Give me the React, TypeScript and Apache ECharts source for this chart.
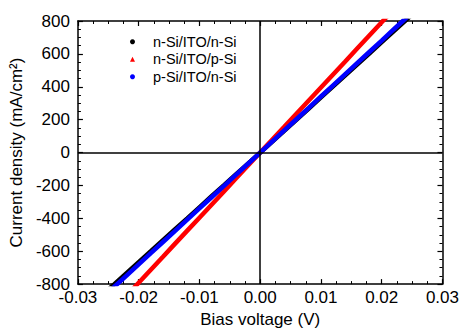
import React, { useEffect, useRef } from "react";
import * as echarts from "echarts";

// Bias voltage (V)
const voltage = [
  -0.026, -0.024, -0.022, -0.02, -0.018, -0.016, -0.014, -0.012, -0.01, -0.008, -0.006, -0.004, -0.002,
  0, 0.002, 0.004, 0.006, 0.008, 0.01, 0.012, 0.014, 0.016, 0.018, 0.02, 0.022, 0.024, 0.026,
];
// Current density (mA/cm2)
const nSiITOnSi = [
  -866, -800, -733, -666, -600, -533, -466, -400, -333, -266, -200, -133, -67,
  0, 67, 134, 201, 268, 336, 403, 470, 537, 604, 672, 739, 806, 873,
];
const nSiITOpSi = [
  -1030, -950, -871, -792, -713, -634, -554, -475, -396, -317, -238, -158, -79,
  0, 79, 158, 238, 317, 396, 475, 554, 634, 713, 792, 871, 950, 1030,
];
const pSiITOnSi = [
  -884, -816, -748, -680, -612, -544, -476, -408, -340, -272, -204, -136, -68,
  0, 68, 136, 204, 272, 341, 409, 477, 545, 613, 681, 750, 818, 886,
];

const seriesNames = ["n-Si/ITO/n-Si", "n-Si/ITO/p-Si", "p-Si/ITO/n-Si"];
const seriesColors = ["#000000", "#ff0000", "#0000ff"];
const legendIcons = ["circle", "triangle", "circle"];

const FONT = "Arial, 'Liberation Sans', sans-serif";

export default function App() {
  const ref = useRef<HTMLDivElement>(null);
  useEffect(() => {
    if (!ref.current) return;
    const chart = echarts.init(ref.current, null, { renderer: "svg" });
    const values = [nSiITOnSi, nSiITOpSi, pSiITOnSi];
    const xFmt = (v: number) => (Math.abs(v) < 1e-9 ? "0.00" : v.toFixed(2));
    const baseX = {
      type: "value" as const,
      min: -0.03,
      max: 0.03,
      interval: 0.01,
      splitLine: { show: false },
      axisLine: { show: true, onZero: false, lineStyle: { color: "#000", width: 1.5 } },
      axisTick: { inside: true, length: 5, lineStyle: { color: "#000", width: 1.2 } },
      minorTick: { show: true, splitNumber: 4, length: 3, lineStyle: { color: "#000", width: 1 } },
    };
    const baseY = {
      type: "value" as const,
      min: -800,
      max: 800,
      interval: 200,
      splitLine: { show: false },
      axisLine: { show: true, onZero: false, lineStyle: { color: "#000", width: 1.5 } },
      axisTick: { inside: true, length: 5, lineStyle: { color: "#000", width: 1.2 } },
      minorTick: { show: true, splitNumber: 4, length: 3, lineStyle: { color: "#000", width: 1 } },
    };
    const order = [0, 1, 2];
    chart.setOption({
      animation: false,
      backgroundColor: "#ffffff",
      grid: { left: 74, top: 21, width: 369, height: 271, containLabel: false },
      legend: {
        orient: "vertical",
        left: 130,
        top: 34,
        itemWidth: 5,
        itemHeight: 5,
        itemGap: 2,
        padding: 0,
        textStyle: { fontFamily: FONT, fontSize: 14.5, lineHeight: 15.5, color: "#000", padding: [0, 0, 0, 13] },
        data: seriesNames.map((n, i) => ({ name: n, icon: legendIcons[i] })),
      },
      xAxis: [
        {
          ...baseX,
          position: "bottom",
          name: "Bias voltage (V)",
          nameLocation: "middle",
          nameGap: 24,
          nameTextStyle: { fontFamily: FONT, fontSize: 17, color: "#000" },
          axisLabel: { fontFamily: FONT, fontSize: 17, color: "#000", margin: 5, formatter: xFmt },
        },
        { ...baseX, position: "top", axisLabel: { show: false } },
      ],
      yAxis: [
        {
          ...baseY,
          position: "left",
          name: "Current density (mA/cm²)",
          nameLocation: "middle",
          nameGap: 42,
          nameTextStyle: { fontFamily: FONT, fontSize: 17, color: "#000" },
          axisLabel: { fontFamily: FONT, fontSize: 17, color: "#000", margin: 8 },
        },
        { ...baseY, position: "right", axisLabel: { show: false } },
      ],
      series: order.map((i, k) => ({
        name: seriesNames[i],
        type: "line",
        xAxisIndex: 0,
        yAxisIndex: 0,
        data: voltage.map((v, j) => [v, values[i][j]]),
        showSymbol: false,
        symbol: legendIcons[i],
        clip: true,
        z: 2 + k,
        itemStyle: { color: seriesColors[i] },
        lineStyle: { color: seriesColors[i], width: 4.5 },
        ...(k === 0
          ? {
              markLine: {
                silent: true,
                symbol: "none",
                label: { show: false },
                lineStyle: { color: "#000", width: 1.5, type: "solid" },
                data: [{ xAxis: 0 }, { yAxis: 0 }],
                z: 10,
              },
            }
          : {}),
      })),
    });
    return () => chart.dispose();
  }, []);
  return (
    <div
      ref={ref}
      style={{ position: "fixed", left: 0, top: 0, width: 462, height: 333, background: "#fff" }}
    />
  );
}
